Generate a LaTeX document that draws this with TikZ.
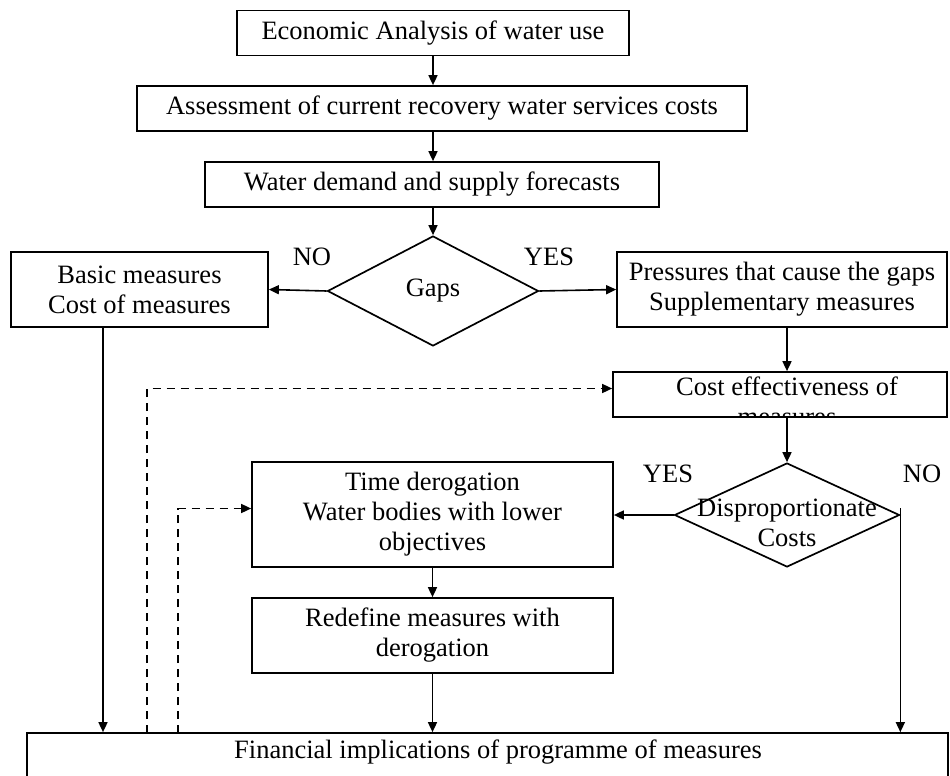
\documentclass[tikz,border=0pt]{standalone}
\usepackage{fontspec}
\setmainfont{Liberation Serif}
\usetikzlibrary{shapes.geometric,arrows.meta}

\begin{document}
\begin{tikzpicture}[x=1pt,y=-1pt,
  font=\fontsize{26.5}{30}\selectfont,
  box/.style={draw,line width=1.7pt,inner sep=0pt,align=center},
  decision/.style={diamond,draw,line width=1.7pt,inner sep=0pt,aspect=2},
  tag/.style={inner sep=0pt,align=center},
  arrow/.style={line width=1.6pt,-{Triangle[length=10pt,width=9pt]}},
  dasharrow/.style={arrow,dash pattern=on 8pt off 6pt}]

  \useasboundingbox (0,0) rectangle (950,776);

  \node[box,minimum width=392,minimum height=45] (econ) at (433,33) {Economic Analysis of water use};
  \node[box,minimum width=610,minimum height=45] (assess) at (442,108.5) {Assessment of current recovery water services costs};
  \node[box,minimum width=454,minimum height=45] (demand) at (432,184.5) {Water demand and supply forecasts};

  \node[decision,minimum width=211,minimum height=110] (gaps) at (433,291) {Gaps};
  \node[box,minimum width=257,minimum height=75] (basic) at (139.5,289.5) {Basic measures\\Cost of measures};
  \node[box,minimum width=330,minimum height=75] (press) at (782,289.5) {Pressures that cause the gaps\\Supplementary measures};
  \node[tag] (noGaps) at (312,257) {NO};
  \node[tag] (yesGaps) at (549,257) {YES};

  % text of this box runs past its lower edge
  \begin{scope}
    \clip (613,372) rectangle (947,417);
    \node[tag,anchor=north] (costText) at (787,377) {Cost effectiveness of\\measures};
  \end{scope}
  \node[box,minimum width=334,minimum height=45] (cost) at (780,394.5) {};

  \node[decision,minimum width=225,minimum height=104] (disp) at (787,515) {};
  \node[tag] (dispText) at (787,523) {Disproportionate\\Costs};
  \node[tag] (yesDisp) at (668,474) {YES};
  \node[tag] (noDisp) at (922,474) {NO};

  \node[box,minimum width=361,minimum height=105] (time) at (432.5,514.5) {Time derogation\\Water bodies with lower\\objectives};
  \node[box,minimum width=361,minimum height=75] (redef) at (432.5,635.5) {Redefine measures with\\derogation};

  \node[box,minimum width=921,minimum height=80] (fin) at (487.5,773) {};
  \node[tag] (finText) at (498,752) {Financial implications of programme of measures};

  \coordinate (dashA) at (147,733);
  \coordinate (dashB) at (178,733);

  \draw[arrow] (econ.south) -- (econ.south |- assess.north);
  \draw[arrow] (econ.south |- assess.south) -- (econ.south |- demand.north);
  \draw[arrow] (econ.south |- demand.south) -- (gaps.north);
  \draw[arrow] (gaps.west) -- (basic.east);
  \draw[arrow] (gaps.east) -- (press.west);
  \draw[arrow] (press.south -| disp.north) -- (cost.north -| disp.north);
  \draw[arrow] (cost.south -| disp.north) -- (disp.north);
  \draw[arrow] (disp.west) -- (time.east |- disp.west);
  \draw[arrow] ([yshift=7pt]disp.east) -- (disp.east |- fin.north);
  \draw[arrow] (time.south) -- (redef.north);
  \draw[arrow] (redef.south) -- (redef.south |- fin.north);
  \draw[arrow] ([xshift=-36.5pt]basic.south) -- ([xshift=-36.5pt]basic.south |- fin.north);
  \draw[dasharrow] (dashA) |- ([yshift=6pt]cost.west);
  \draw[dasharrow] (dashB) |- ([yshift=6pt]time.west);
\end{tikzpicture}
\end{document}
